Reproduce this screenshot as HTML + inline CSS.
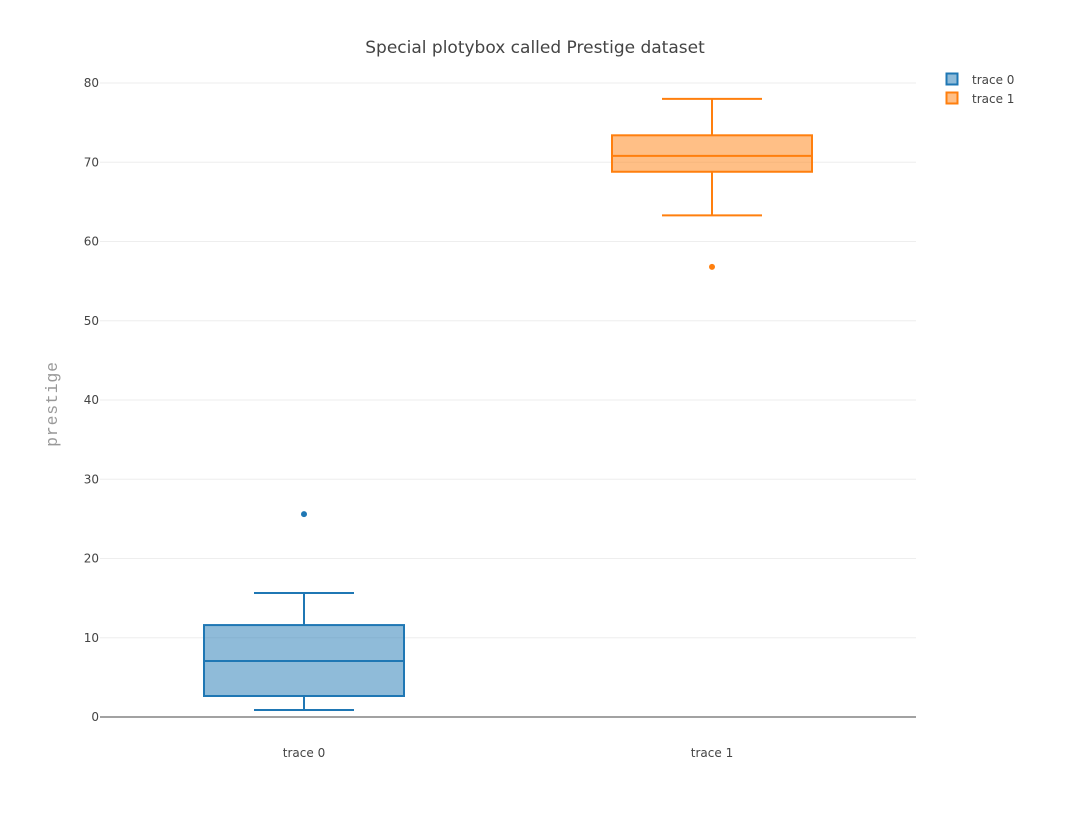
<!DOCTYPE html>
<html><head><meta charset="utf-8"><style>
html,body{margin:0;padding:0;background:#fff;}
svg{display:block;font-family:"DejaVu Sans","Liberation Sans",sans-serif;}
</style></head><body>
<svg id="chart" width="1072" height="824">
<text x="535" y="53" text-anchor="middle" font-size="17" fill="#444">Special plotybox called Prestige dataset</text>
<g id="grid"></g>
<g id="boxes"></g>
<text transform="translate(57,404) rotate(-90)" text-anchor="middle" font-size="16.5" letter-spacing="0.8" fill="#999" font-family="Liberation Mono,monospace">prestige</text>
<g>
<rect x="946.5" y="73.5" width="11" height="11" fill="#1f77b4" fill-opacity="0.5" stroke="#1f77b4" stroke-width="2"/>
<text x="972" y="84" font-size="12" fill="#444">trace 0</text>
<rect x="946.5" y="92.5" width="11" height="11" fill="#ff7f0e" fill-opacity="0.5" stroke="#ff7f0e" stroke-width="2"/>
<text x="972" y="103" font-size="12" fill="#444">trace 1</text>
</g>
</svg>
<script>
const categories=["trace 0","trace 1"];
const lowerWhisker=[0.88,63.3];
const q1=[2.65,68.8];
const median=[7.07,70.8];
const q3=[11.6,73.4];
const upperWhisker=[15.65,78.0];
const outliers=[25.6,56.8];
const yTicks=[0,10,20,30,40,50,60,70,80];
const colors=["#1f77b4","#ff7f0e"];
const NS="http://www.w3.org/2000/svg";
const X0=100,X1=916,Y0=717,Y80=83;
const y=v=>Y0-(v/80)*(Y0-Y80);
const x=i=>X0+(X1-X0)*(i+0.5)/categories.length;
function mk(tag,attrs,parent){const e=document.createElementNS(NS,tag);for(const k in attrs)e.setAttribute(k,attrs[k]);parent.appendChild(e);return e;}
const grid=document.getElementById('grid');
yTicks.forEach(t=>{
  const l=mk('line',{x1:X0,x2:X1,y1:y(t),y2:y(t),stroke:t===0?'#444':'#eee','stroke-width':1},grid);
  
  
  const tx=mk('text',{x:X0-1,y:y(t)+4,'text-anchor':'end','font-size':12,fill:'#444'},grid);
  tx.textContent=t;
  
  
});
const bg=document.getElementById('boxes');
categories.forEach((c,i)=>{
  const cx=x(i),col=colors[i],bw=100,ww=50;
  const g=mk('g',{},bg);
  
  
  mk('line',{x1:cx,x2:cx,y1:y(lowerWhisker[i]),y2:y(q1[i]),stroke:col,'stroke-width':2},g);
  mk('line',{x1:cx,x2:cx,y1:y(q3[i]),y2:y(upperWhisker[i]),stroke:col,'stroke-width':2},g);
  mk('line',{x1:cx-ww,x2:cx+ww,y1:y(lowerWhisker[i]),y2:y(lowerWhisker[i]),stroke:col,'stroke-width':2},g);
  mk('line',{x1:cx-ww,x2:cx+ww,y1:y(upperWhisker[i]),y2:y(upperWhisker[i]),stroke:col,'stroke-width':2},g);
  mk('rect',{x:cx-bw,y:y(q3[i]),width:2*bw,height:y(q1[i])-y(q3[i]),fill:col,'fill-opacity':0.5,stroke:col,'stroke-width':2},g);
  mk('line',{x1:cx-bw,x2:cx+bw,y1:y(median[i]),y2:y(median[i]),stroke:col,'stroke-width':2},g);
  const o=mk('circle',{cx:cx,cy:y(outliers[i]),r:3,fill:col},g);
  
  
  const lab=mk('text',{x:cx,y:757,'text-anchor':'middle','font-size':12,fill:'#444'},bg);
  lab.textContent=c;
  
  
});
</script>
</body></html>
